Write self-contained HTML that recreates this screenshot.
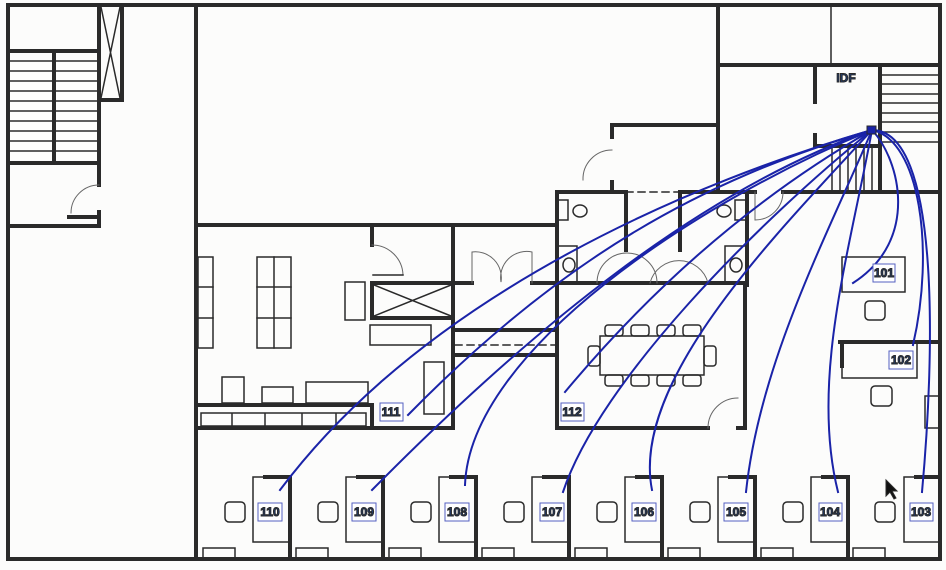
<!DOCTYPE html>
<html><head><meta charset="utf-8"><style>
html,body{margin:0;padding:0;background:#fcfcfb;}
svg{display:block;}
text{font-family:"Liberation Sans",sans-serif;font-weight:bold;font-size:12px;fill:#1f3f7a;}
</style></head><body>
<svg width="946" height="570" viewBox="0 0 946 570" xmlns="http://www.w3.org/2000/svg">
<rect width="946" height="570" fill="#fcfcfb"/>
<g stroke="#2a2a2a" fill="none" stroke-linecap="square">
<g stroke-width="4">
<path d="M8,5 H940 M8,5 V559 H940 M940,5 V559"/>
<path d="M196,5 V559"/>
<path d="M8,51 H99 M8,163 H99 M99,5 V185 M99,212 V226 H8 M69,217 H99"/>
<path d="M54,51 V163"/>
<path d="M99,100 H122 V5"/>
<path d="M196,225 H556 M718,5 V192 M718,65 H940 M612,137 V125 H718 M612,182 V190"/>
<path d="M815,68 V102 M815,135 V146 H880 M880,65 V190 M783,192 H940"/>
<path d="M557,192 H626 V250 M680,250 V192 H755 M747,192 V285 M557,192 V285"/>
<path d="M557,283 H747"/>
<path d="M372,225 V245 M453,225 V428 M372,283 H453 V318 H372 Z M453,283 H472 M532,283 H557"/>
<path d="M196,428 H453 M196,405 H372 V428"/>
<path d="M453,330 H557 M453,355 H557 M557,285 V428 H708 M738,428 H745 V285"/>
<path d="M840,342 H940 M842,342 V366"/>
</g>
<g stroke-width="1.5">
<path d="M10,61 H97 M10,71 H97 M10,81 H97 M10,91 H97 M10,101 H97 M10,111 H97 M10,121 H97 M10,131 H97 M10,141 H97 M10,151 H97"/>
<path d="M101,7 L120,98 M120,7 L101,98"/>
<path d="M882,75 H938 M882,84 H938 M882,94 H938 M882,103 H938 M882,113 H938 M882,122 H938 M882,132 H938 M882,142 H938"/>
<path d="M831,5 V65"/>
<path d="M832,148 V190 M840,148 V190 M848,148 V190 M856,148 V190 M864,148 V190 M872,148 V190"/>
<path d="M374,285 L451,316 M451,285 L374,316"/>
<path d="M626,192 H680" stroke-dasharray="7,5"/>
<path d="M455,345 H555" stroke-dasharray="7,5"/>
<rect x="198" y="257" width="15" height="91"/><path d="M198,287 H213 M198,318 H213"/>
<rect x="257" y="257" width="34" height="91"/><path d="M274,257 V348 M257,287 H291 M257,318 H291"/>
<rect x="345" y="282" width="20" height="38"/>
<rect x="370" y="325" width="61" height="20"/>
<rect x="424" y="362" width="20" height="52"/>
<rect x="222" y="377" width="22" height="26"/>
<rect x="262" y="387" width="31" height="16"/>
<rect x="306" y="382" width="62" height="21"/>
<path d="M201,413 H366 V426 H201 Z M232,413 V426 M265,413 V426 M302,413 V426 M336,413 V426"/>
<rect x="557" y="200" width="11" height="20"/><ellipse cx="580" cy="211" rx="7" ry="6"/>
<rect x="557" y="246" width="20" height="37"/><ellipse cx="569" cy="265" rx="6" ry="7"/>
<rect x="735" y="200" width="11" height="20"/><ellipse cx="724" cy="211" rx="7" ry="6"/>
<rect x="725" y="246" width="21" height="37"/><ellipse cx="736" cy="265" rx="6" ry="7"/>
<rect x="600" y="336" width="104" height="39"/>
<rect x="588" y="346" width="12" height="20" rx="3"/><rect x="704" y="346" width="12" height="20" rx="3"/>
<rect x="605" y="325" width="18" height="11" rx="3"/><rect x="631" y="325" width="18" height="11" rx="3"/><rect x="657" y="325" width="18" height="11" rx="3"/><rect x="683" y="325" width="18" height="11" rx="3"/>
<rect x="605" y="375" width="18" height="11" rx="3"/><rect x="631" y="375" width="18" height="11" rx="3"/><rect x="657" y="375" width="18" height="11" rx="3"/><rect x="683" y="375" width="18" height="11" rx="3"/>
<rect x="842" y="257" width="63" height="35"/>
<rect x="865" y="301" width="20" height="19" rx="4"/>
<rect x="842" y="342" width="75" height="36"/>
<rect x="871" y="386" width="21" height="20" rx="4"/>
<rect x="925" y="396" width="15" height="32"/>
</g>
<g stroke="#666" stroke-width="1" fill="none">
<path d="M99,185 A28,28 0 0 0 71,213"/>
<path d="M372,245 A31,31 0 0 1 403,275"/>
<path d="M472,283 V252 A26,26 0 0 1 501,282 A26,26 0 0 1 532,252 V283"/>
<path d="M612,150 A29,29 0 0 0 583,180"/>
<path d="M597,283 A30,30 0 0 1 657,283 M650,283 A30,30 0 0 1 708,283"/>
<path d="M755,192 V220 A28,28 0 0 0 783,192"/>
<path d="M708,428 A30,30 0 0 1 738,398"/>
</g>
<path d="M73,217 H99 M373,275 H403" stroke="#2a2a2a" stroke-width="1.5"/>
<g stroke="#2a2a2a" fill="none">
<g id="cub">
<rect x="253" y="477" width="37" height="65" stroke-width="1.5"/>
<path d="M265,477 H290 V559" stroke-width="4"/>
<rect x="225" y="502" width="20" height="20" rx="4" stroke-width="1.5"/>
<rect x="203" y="548" width="32" height="11" stroke-width="1.5"/>
</g>
<use href="#cub" x="93"/><use href="#cub" x="186"/><use href="#cub" x="279"/><use href="#cub" x="372"/><use href="#cub" x="465"/><use href="#cub" x="558"/>
<rect x="904" y="477" width="36" height="65" stroke-width="1.5"/>
<path d="M916,477 H940" stroke-width="4"/>
<rect x="875" y="502" width="20" height="20" rx="4" stroke-width="1.5"/>
<rect x="853" y="548" width="32" height="11" stroke-width="1.5"/>
</g>
<g stroke="#1a23a8" stroke-width="2" fill="none">
<path d="M872,130 C700,180 430,290 280,490"/>
<path d="M872,130 C700,180 560,260 408,415"/>
<path d="M872,130 C700,190 530,330 372,490"/>
<path d="M872,130 C700,200 470,350 465,485"/>
<path d="M872,130 C750,200 650,290 565,392"/>
<path d="M872,130 C760,220 600,380 563,492"/>
<path d="M872,130 C780,230 630,380 652,490"/>
<path d="M872,130 C830,230 760,360 746,492"/>
<path d="M872,130 C850,250 810,380 838,492"/>
<path d="M872,130 C900,160 920,240 853,283"/>
<path d="M872,130 C920,140 935,250 913,345"/>
<path d="M872,130 C940,130 935,350 922,492"/>
</g>
<rect x="867" y="126" width="9" height="8" fill="#1a23a8"/>
<g fill="#fff" stroke="#5560c0" stroke-width="1">
<rect x="380" y="403" width="23" height="18"/><rect x="561" y="403" width="23" height="18"/>
<rect x="873" y="264" width="22" height="18"/><rect x="889" y="351" width="24" height="18"/>
<rect x="258" y="503" width="24" height="18"/><rect x="352" y="503" width="24" height="18"/><rect x="445" y="503" width="24" height="18"/>
<rect x="540" y="503" width="24" height="18"/><rect x="632" y="503" width="24" height="18"/><rect x="724" y="503" width="24" height="18"/>
<rect x="819" y="503" width="23" height="18"/><rect x="910" y="503" width="23" height="18"/>
</g>
<g text-anchor="middle">
<text x="391" y="416">111</text><text x="572" y="416">112</text>
<text x="884" y="277">101</text><text x="901" y="364">102</text>
<text x="270" y="516">110</text><text x="364" y="516">109</text><text x="457" y="516">108</text>
<text x="552" y="516">107</text><text x="644" y="516">106</text><text x="736" y="516">105</text>
<text x="830" y="516">104</text><text x="921" y="516">103</text>
<text x="846" y="82">IDF</text>
</g>
<path d="M886,480 L886,496 L890,492 L894,499 L896,498 L892,491 L897,491 Z" fill="#111"/>
</svg>
</body></html>
